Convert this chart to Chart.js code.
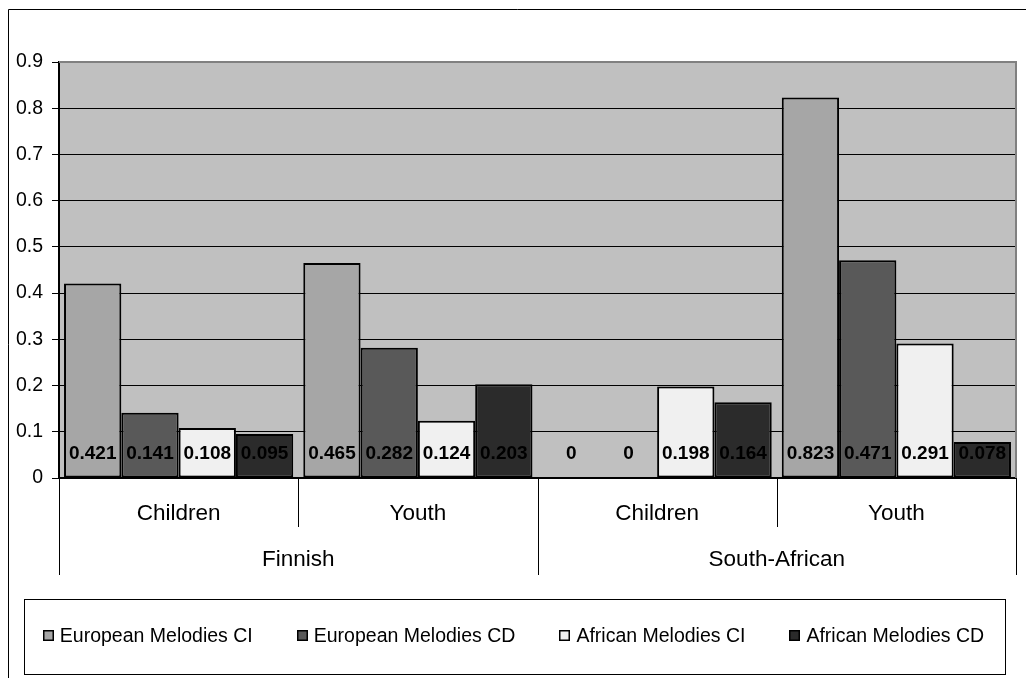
<!DOCTYPE html>
<html>
<head>
<meta charset="utf-8">
<script src="https://cdn.jsdelivr.net/npm/chart.js@4/dist/chart.umd.min.js"></script>
<style>
  html, body { margin: 0; padding: 0; background: #ffffff; }
  #chart { display: block; }
</style>
</head>
<body>
<canvas id="chart" width="1026" height="678"></canvas>
<script>
// Category labels (inner level) and their grouping (outer level)
const categories = ['Children', 'Youth', 'Children', 'Youth'];
const groups = ['Finnish', 'South-African'];
const groupSpan = 2;

// Series
const seriesNames = ['European Melodies CI', 'European Melodies CD', 'African Melodies CI', 'African Melodies CD'];
const europeanCI = [0.421, 0.465, 0, 0.823];
const europeanCD = [0.141, 0.282, 0, 0.471];
const africanCI  = [0.108, 0.124, 0.198, 0.291];
const africanCD  = [0.095, 0.203, 0.164, 0.078];
const seriesColors = ['#a6a6a6', '#595959', '#f0f0f0', '#2b2b2b'];

// Value axis tick labels
const yTickLabels = ['0', '0.1', '0.2', '0.3', '0.4', '0.5', '0.6', '0.7', '0.8', '0.9'];

const FONT = '"Liberation Sans", Arial, Helvetica, sans-serif';

// Paints page background, plot background and frame lines
const framePlugin = {
  id: 'frame',
  beforeDraw(chart) {
    const { ctx, chartArea: a } = chart;
    ctx.save();
    ctx.fillStyle = '#ffffff';
    ctx.fillRect(0, 0, chart.width, chart.height);
    ctx.fillStyle = '#c0c0c0';
    ctx.fillRect(a.left, a.top, a.right - a.left, a.bottom - a.top);
    // outer chart border (top and left edges fall inside the canvas)
    ctx.strokeStyle = '#000000';
    ctx.lineWidth = 1;
    ctx.beginPath();
    ctx.moveTo(8.5, chart.height + 2);
    ctx.lineTo(8.5, 9.5);
    ctx.lineTo(chart.width + 2, 9.5);
    ctx.stroke();
    ctx.restore();
  },
  beforeDatasetsDraw(chart) {
    const { ctx, chartArea: a } = chart;
    ctx.save();
    ctx.strokeStyle = '#808080';
    ctx.lineWidth = 2;
    ctx.beginPath();
    ctx.moveTo(a.left, a.top);
    ctx.lineTo(a.right, a.top);
    ctx.lineTo(a.right, a.bottom);
    ctx.stroke();
    ctx.restore();
  }
};

// Value labels at the base of each bar
const valueLabelPlugin = {
  id: 'valueLabels',
  afterDatasetsDraw(chart) {
    const { ctx } = chart;
    const yScale = chart.scales.y;
    const baseY = yScale.getPixelForValue(0);
    ctx.save();
    ctx.font = 'bold 19px ' + FONT;
    ctx.fillStyle = '#000000';
    ctx.textAlign = 'center';
    ctx.textBaseline = 'middle';
    chart.data.datasets.forEach((ds, di) => {
      const meta = chart.getDatasetMeta(di);
      meta.data.forEach((bar, i) => {
        ctx.fillText(String(ds.data[i]), bar.x, baseY - 24);
      });
    });
    ctx.restore();
  }
};

// Category separators, group labels and the boxed legend
const axisLegendPlugin = {
  id: 'axisLegend',
  afterDraw(chart) {
    const { ctx, chartArea: a } = chart;
    const xScale = chart.scales.x;
    const n = categories.length;
    const half = (xScale.getPixelForValue(1) - xScale.getPixelForValue(0)) / 2;
    const bx = i => (i < n ? xScale.getPixelForValue(i) - half : xScale.getPixelForValue(n - 1) + half);

    ctx.save();
    ctx.strokeStyle = '#000000';
    ctx.lineWidth = 1;
    for (let i = 0; i <= n; i++) {
      const x = Math.round(bx(i)) + 0.5;
      const len = (i % groupSpan === 0) ? 97 : 49;
      ctx.beginPath();
      ctx.moveTo(x, a.bottom);
      ctx.lineTo(x, a.bottom + len);
      ctx.stroke();
    }

    ctx.font = '22.5px ' + FONT;
    ctx.fillStyle = '#000000';
    ctx.textAlign = 'center';
    ctx.textBaseline = 'middle';
    groups.forEach((g, gi) => {
      const cx = (bx(gi * groupSpan) + bx((gi + 1) * groupSpan)) / 2;
      ctx.fillText(g, cx, a.bottom + 82);
    });

    // legend box
    const box = { left: 24, top: 599, right: 1005, bottom: 674 };
    ctx.strokeStyle = '#000000';
    ctx.lineWidth = 1;
    ctx.strokeRect(box.left + 0.5, box.top + 0.5, box.right - box.left, box.bottom - box.top);

    ctx.font = '19.5px ' + FONT;
    ctx.textAlign = 'left';
    const sq = 11, sqGap = 8, itemGap = 42;
    const items = chart.data.datasets.map(ds => ({
      label: ds.label, color: ds.backgroundColor, w: ctx.measureText(ds.label).width
    }));
    const total = items.reduce((s, it) => s + sq + sqGap + it.w, 0) + itemGap * (items.length - 1);
    let x = (box.left + box.right) / 2 - total / 2;
    const cy = (box.top + box.bottom) / 2 - 1;
    items.forEach(it => {
      const sx = Math.round(x), sy = Math.round(cy - sq / 2);
      ctx.fillStyle = it.color;
      ctx.fillRect(sx, sy, sq, sq);
      ctx.strokeStyle = '#000000';
      ctx.lineWidth = 1.5;
      ctx.strokeRect(sx + 0.75, sy + 0.75, sq - 1.5, sq - 1.5);
      ctx.fillStyle = '#000000';
      ctx.fillText(it.label, x + sq + sqGap - 2, cy + 1);
      x += sq + sqGap + it.w + itemGap;
    });
    ctx.restore();
  }
};

const seriesData = [europeanCI, europeanCD, africanCI, africanCD];

new Chart(document.getElementById('chart'), {
  type: 'bar',
  data: {
    labels: categories,
    datasets: seriesNames.map((name, i) => ({
      label: name,
      data: seriesData[i],
      backgroundColor: seriesColors[i],
      borderColor: '#000000',
      borderWidth: 2,
      borderSkipped: false,
      categoryPercentage: 0.958,
      barPercentage: 1.0
    }))
  },
  options: {
    responsive: false,
    animation: false,
    devicePixelRatio: 1,
    layout: { padding: { left: 0, top: 62, right: 10, bottom: 0 } },
    plugins: {
      legend: { display: false },
      tooltip: { enabled: false },
      title: { display: false }
    },
    scales: {
      x: {
        type: 'category',
        offset: true,
        grid: { display: false, drawOnChartArea: false, drawTicks: false },
        border: { display: true, color: '#000000', width: 1.5 },
        ticks: {
          color: '#000000',
          font: { family: FONT, size: 22.5 },
          padding: 22,
          maxRotation: 0,
          autoSkip: false
        },
        afterFit(scale) { scale.height = 200; }
      },
      y: {
        min: 0,
        max: 0.9,
        ticks: {
          stepSize: 0.1,
          color: '#000000',
          font: { family: FONT, size: 19.5 },
          padding: 9,
          callback: (v, i) => yTickLabels[i]
        },
        grid: {
          color: '#000000',
          lineWidth: 1,
          drawTicks: true,
          tickLength: 7,
          tickColor: '#000000'
        },
        border: { display: true, color: '#000000', width: 2 },
        afterFit(scale) { scale.width = 59; }
      }
    }
  },
  plugins: [framePlugin, valueLabelPlugin, axisLegendPlugin]
});
</script>
</body>
</html>
